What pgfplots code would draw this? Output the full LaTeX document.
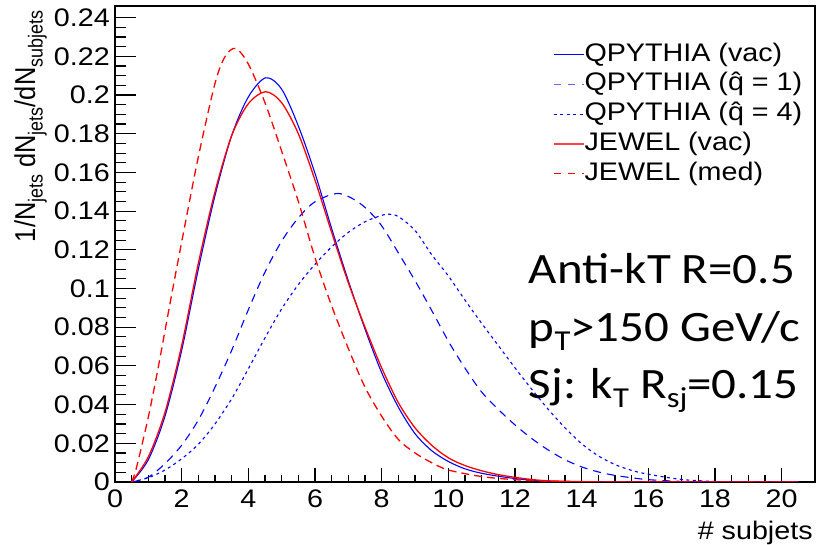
\documentclass[border=0pt]{standalone}
\usepackage{graphicx}
\usepackage{pgfplots}
\pgfplotsset{compat=1.18}
\usepackage{fontspec}
\setmainfont{Liberation Sans}[FakeStretch=1.13]
\newfontfamily\labfont{Liberation Sans}
\newfontfamily\calfont{Carlito}[FakeStretch=1.13]
\newcommand\lsub[1]{\raisebox{-6.5bp}{\fontsize{18}{18}\selectfont #1}}
\newcommand\csub[1]{\raisebox{-9bp}{\fontsize{29}{29}\selectfont #1}}
\newcommand\qhat{\ooalign{q\cr\hidewidth\char"02C6\hidewidth\cr}}
\begin{document}
\begin{tikzpicture}
\begin{axis}[
  scale only axis, width=700bp, height=476bp,
  xmin=0, xmax=21, ymin=0, ymax=0.246,
  xtick={0,2,...,20}, minor x tick num=3,
  ytick={0,0.02,0.04,0.06,0.08,0.1,0.12,0.14,0.16,0.18,0.2,0.22,0.24}, minor y tick num=3,
  scaled y ticks=false,
  yticklabel style={/pgf/number format/fixed, /pgf/number format/precision=2},
  xtick pos=lower, ytick pos=left, tick align=inside,
  major tick length=21bp, minor tick length=11bp,
  x tick style={/pgfplots/major tick length=14bp, /pgfplots/minor tick length=7bp},
  axis line style={line width=1.2bp},
  every tick/.style={black, line width=1.1bp},
  /pgf/number format/assume math mode=true,
  tick label style={font=\fontsize{25.5}{25.5}\selectfont},
  yticklabel style={inner sep=0pt, anchor=east, xshift=-5bp},
  xticklabel style={inner sep=0pt, anchor=north, yshift=-8bp},
  xlabel={\# subjets},
  xlabel style={font=\fontsize{25.5}{25.5}\selectfont, at={(axis description cs:0.997,-0.12)}, anchor=base east, inner sep=0pt},
  ylabel={\scalebox{1}[1.13]{\labfont\fontsize{25.5}{25.5}\selectfont 1/N\lsub{jets} dN\lsub{jets}/dN\lsub{subjets}}},
  ylabel style={at={(axis description cs:-0.114,0.747)}, anchor=base, inner sep=0pt},
  legend style={draw=none, fill=none, at={(axis description cs:0.626,0.922)}, anchor=north west,
    font=\fontsize{25.5}{25.5}\selectfont, inner sep=0pt, outer sep=0pt, row sep=6.8bp,
    nodes={inner sep=0pt, text height=18bp, text depth=5bp}},
  legend cell align=left,
  clip=true,
]
\addplot[blue, line width=1.1bp, smooth,
  legend image code/.code={\draw[blue, line width=1.1bp] (0bp,0bp) -- (30bp,0bp);}] coordinates {
(0.5,0) (1.0,0.0115) (1.5,0.034) (2.0,0.068) (2.5,0.110) (3.0,0.148) (3.5,0.179) (4.0,0.199)
(4.52,0.2089) (5.0,0.203) (5.5,0.184) (6.0,0.1595) (6.5,0.131) (7.0,0.104) (7.5,0.079)
(8.0,0.0565) (8.5,0.0387) (9.0,0.025) (9.5,0.0162) (10.0,0.0106) (10.5,0.0068) (11.0,0.0045)
(11.5,0.003) (12,0.0018) (12.5,0.0009) (13,0.0004) (14,0.0001) (15,0) (20.5,0)};
\addlegendentry{QPYTHIA (vac)}
\addplot[blue, line width=1.1bp, dash pattern=on 8bp off 6bp, smooth,
  legend image code/.code={\draw[blue!60, line width=1.1bp, dash pattern=on 7bp off 7bp] (0bp,0bp) -- (30bp,0bp);}] coordinates {
(0.5,0) (1.0,0.0025) (1.5,0.0095) (2.0,0.019) (2.5,0.032) (3.0,0.049) (3.5,0.068) (4.0,0.089)
(4.5,0.1085) (5.0,0.1245) (5.5,0.1365) (6.0,0.1448) (6.7,0.1491) (7.35,0.144) (7.95,0.1336)
(8.55,0.117) (9.05,0.1026) (9.55,0.0871) (10.04,0.0716) (10.54,0.0578) (11.0,0.0465)
(11.5,0.0375) (12.0,0.0295) (12.5,0.0225) (13.0,0.0165) (13.5,0.0115) (14.0,0.0078)
(14.5,0.0052) (15,0.0034) (15.5,0.0022) (16,0.0012) (17,0.0003) (18,0) (20.5,0)};
\addlegendentry{QPYTHIA (\qhat\ = 1)}
\addplot[blue, line width=1.1bp, dash pattern=on 3bp off 3.5bp, smooth,
  legend image code/.code={\draw[blue, line width=1.1bp, dash pattern=on 3bp off 3.5bp] (0bp,0bp) -- (30bp,0bp);}] coordinates {
(0.5,0) (1.0,0.0022) (1.5,0.0062) (2.0,0.012) (2.5,0.0195) (3.0,0.030) (3.5,0.043) (4.0,0.0585)
(4.5,0.0745) (5.0,0.0895) (5.5,0.1020) (6.0,0.1125) (6.5,0.1215) (7.0,0.1290) (7.5,0.1345)
(8.0,0.1378) (8.2,0.1384) (8.5,0.1372) (9.0,0.1300) (9.5,0.1175) (10.0,0.1065) (10.5,0.0940)
(11.0,0.0820) (11.5,0.0705) (12.0,0.0590) (12.5,0.0480) (13.0,0.0375) (13.5,0.0280)
(14.0,0.0198) (14.5,0.0135) (15.0,0.0090) (15.5,0.0060) (16.0,0.0040) (17,0.0013)
(18,0.0003) (19,0) (20.5,0)};
\addlegendentry{QPYTHIA (\qhat\ = 4)}
\addplot[red, line width=1.3bp, smooth,
  legend image code/.code={\draw[red!75, line width=1.3bp] (0bp,0bp) -- (30bp,0bp);}] coordinates {
(0.5,0) (1.0,0.013) (1.5,0.036) (2.0,0.0705) (2.5,0.113) (3.0,0.150) (3.5,0.179) (4.0,0.1955)
(4.52,0.2017) (5.0,0.196) (5.5,0.180) (6.0,0.156) (6.5,0.129) (7.0,0.103) (7.5,0.080)
(8.0,0.059) (8.5,0.041) (9.0,0.028) (9.5,0.019) (10.0,0.0125) (10.5,0.0085) (11.0,0.0058)
(11.5,0.0038) (12,0.0024) (12.5,0.0013) (13,0.0006) (14,0.0002) (15,0) (20.5,0)};
\addlegendentry{JEWEL (vac)}
\addplot[red, line width=1.3bp, dash pattern=on 8bp off 5bp, smooth,
  legend image code/.code={\draw[red, line width=1.3bp, dash pattern=on 7bp off 7bp] (0bp,0bp) -- (30bp,0bp);}] coordinates {
(0.5,0) (0.65,0.0078) (1.0,0.0336) (1.3,0.0595) (1.65,0.0922) (2.0,0.124) (2.5,0.168) (3.0,0.206) (3.3,0.2198) (3.62,0.2241)
(4.0,0.216) (4.5,0.196) (5.0,0.171) (5.5,0.145) (6.0,0.116) (6.5,0.091) (7.0,0.069) (7.5,0.049)
(8.0,0.034) (8.5,0.022) (9.0,0.015) (9.5,0.0100) (10.0,0.0062) (11.0,0.0028) (12.0,0.0012)
(13.0,0.0004) (14,0.0001) (15,0) (20.5,0)};
\addlegendentry{JEWEL (med)}
\node[anchor=base west, inner sep=0pt, font=\calfont\fontsize{43.5}{43.5}\selectfont] at (axis description cs:0.591,0.416) {Anti-kT R=0.5};
\node[anchor=base west, inner sep=0pt, font=\calfont\fontsize{43.5}{43.5}\selectfont] at (axis description cs:0.591,0.296) {p\csub{T}>150 GeV/c};
\node[anchor=base west, inner sep=0pt, font=\calfont\fontsize{43.5}{43.5}\selectfont] at (axis description cs:0.591,0.176) {Sj: k\csub{T} R\csub{sj}=0.15};
\end{axis}
\pgfresetboundingbox
\path (-115bp,-63bp) rectangle (702bp,482bp);
\end{tikzpicture}
\end{document}
